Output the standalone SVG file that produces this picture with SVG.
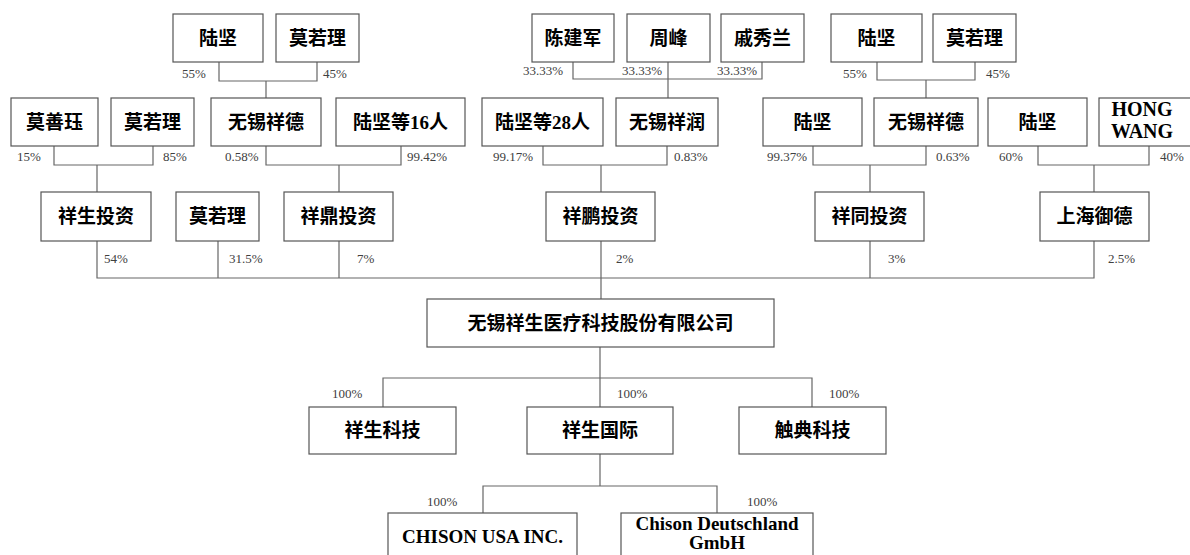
<svg xmlns="http://www.w3.org/2000/svg" width="1190" height="555" viewBox="0 0 1190 555">
<style>
.b{fill:#fff;stroke:#555;stroke-width:1.2}
.t{font-family:"Liberation Serif","Noto Sans CJK SC",serif;font-weight:bold;font-size:19px;fill:#000;text-anchor:middle}
.p{font-family:"Liberation Serif",serif;font-size:13px;fill:#404040}
.c{fill:none;stroke:#666;stroke-width:1.2}
</style>
<rect width="1190" height="555" fill="#fff"/>
<g id="connectors" class="c">
<path d="M219 62V81H317V62M266 81V98"/>
<path d="M573 62V79H762V62M668 62V98"/>
<path d="M877 62V80H975V62M926 80V98"/>
<path d="M54 146V165H153V146M97 165V192"/>
<path d="M266 146V165H401V146M339 165V192"/>
<path d="M543 146V165H667V146M601 165V192"/>
<path d="M813 146V165H926V146M870 165V192"/>
<path d="M1038 146V165H1149V146M1094 165V192"/>
<path d="M97 241V278H1094V241M218 241V278M339 241V278M601 241V299M870 241V278"/>
<path d="M600 347V407M383 407V378H812V407"/>
<path d="M600 454V486M483 513V486H717V513"/>
</g>
<g id="n_lujian1"><rect class="b" x="173" y="14" width="90" height="48"/><text class="t" x="218" y="45">陆坚</text></g>
<g id="n_moruoli1"><rect class="b" x="276" y="14" width="83" height="48"/><text class="t" x="317.5" y="45">莫若理</text></g>
<g id="n_chenjianjun"><rect class="b" x="532" y="14" width="82" height="48"/><text class="t" x="573" y="45">陈建军</text></g>
<g id="n_zhoufeng"><rect class="b" x="627" y="14" width="83" height="48"/><text class="t" x="668.5" y="45">周峰</text></g>
<g id="n_qixiulan"><rect class="b" x="721" y="14" width="83" height="48"/><text class="t" x="762.5" y="45">戚秀兰</text></g>
<g id="n_lujian2"><rect class="b" x="831" y="14" width="91" height="48"/><text class="t" x="876.5" y="45">陆坚</text></g>
<g id="n_moruoli2"><rect class="b" x="933" y="14" width="83" height="48"/><text class="t" x="974.5" y="45">莫若理</text></g>

<g id="n_moshanyu"><rect class="b" x="11" y="98" width="87" height="48"/><text class="t" x="54.5" y="129">莫善珏</text></g>
<g id="n_moruoli3"><rect class="b" x="111" y="98" width="83" height="48"/><text class="t" x="152.5" y="129">莫若理</text></g>
<g id="n_wuxixiangde1"><rect class="b" x="211" y="98" width="110" height="48"/><text class="t" x="266" y="129">无锡祥德</text></g>
<g id="n_lujian16"><rect class="b" x="336" y="98" width="129" height="48"/><text class="t" x="400.5" y="129">陆坚等16人</text></g>
<g id="n_lujian28"><rect class="b" x="482" y="98" width="121" height="48"/><text class="t" x="542.5" y="129">陆坚等28人</text></g>
<g id="n_wuxixiangrun"><rect class="b" x="616" y="98" width="102" height="48"/><text class="t" x="667" y="129">无锡祥润</text></g>
<g id="n_lujian3"><rect class="b" x="763" y="98" width="99" height="48"/><text class="t" x="812.5" y="129">陆坚</text></g>
<g id="n_wuxixiangde2"><rect class="b" x="874" y="98" width="104" height="48"/><text class="t" x="926" y="129">无锡祥德</text></g>
<g id="n_lujian4"><rect class="b" x="988" y="98" width="99" height="48"/><text class="t" x="1037.5" y="129">陆坚</text></g>
<g id="n_hongwang"><rect class="b" x="1099" y="98" width="100" height="48"/><text class="t" x="1142" y="116" style="font-size:20px">HONG</text><text class="t" x="1142" y="138" style="font-size:20px">WANG</text></g>

<g id="n_xiangshengtouzi"><rect class="b" x="41" y="192" width="110" height="49"/><text class="t" x="96" y="223">祥生投资</text></g>
<g id="n_moruoli4"><rect class="b" x="176" y="192" width="83" height="49"/><text class="t" x="217.5" y="223">莫若理</text></g>
<g id="n_xiangdingtouzi"><rect class="b" x="284" y="192" width="109" height="49"/><text class="t" x="338.5" y="223">祥鼎投资</text></g>
<g id="n_xiangpengtouzi"><rect class="b" x="546" y="192" width="109" height="49"/><text class="t" x="600.5" y="223">祥鹏投资</text></g>
<g id="n_xiangtongtouzi"><rect class="b" x="815" y="192" width="109" height="49"/><text class="t" x="869.5" y="223">祥同投资</text></g>
<g id="n_shanghaiyude"><rect class="b" x="1040" y="192" width="109" height="49"/><text class="t" x="1094.5" y="223">上海御德</text></g>

<g id="n_main"><rect class="b" x="427" y="299" width="347" height="48"/><text class="t" x="600.5" y="330">无锡祥生医疗科技股份有限公司</text></g>

<g id="n_xiangshengkeji"><rect class="b" x="309" y="407" width="147" height="47"/><text class="t" x="382.5" y="437">祥生科技</text></g>
<g id="n_xiangshengguoji"><rect class="b" x="527" y="407" width="146" height="47"/><text class="t" x="600" y="437">祥生国际</text></g>
<g id="n_chudiankeji"><rect class="b" x="739" y="407" width="147" height="47"/><text class="t" x="812.5" y="437">触典科技</text></g>

<g id="n_chisonusa"><rect class="b" x="388" y="513" width="189" height="60"/><text class="t" x="482.5" y="543">CHISON USA INC.</text></g>
<g id="n_chisonde"><rect class="b" x="621" y="513" width="192" height="60"/><text class="t" x="717" y="530">Chison Deutschland</text><text class="t" x="717" y="549">GmbH</text></g>

<g id="labels" class="p">
<text x="182" y="78">55%</text>
<text x="323" y="78">45%</text>
<text x="523" y="75">33.33%</text>
<text x="622" y="75">33.33%</text>
<text x="717" y="75">33.33%</text>
<text x="843" y="78">55%</text>
<text x="986" y="78">45%</text>
<text x="17" y="161">15%</text>
<text x="163" y="161">85%</text>
<text x="225" y="161">0.58%</text>
<text x="407" y="161">99.42%</text>
<text x="493" y="161">99.17%</text>
<text x="674" y="161">0.83%</text>
<text x="767" y="161">99.37%</text>
<text x="936" y="161">0.63%</text>
<text x="999" y="161">60%</text>
<text x="1160" y="161">40%</text>
<text x="104" y="263">54%</text>
<text x="229" y="263">31.5%</text>
<text x="357" y="263">7%</text>
<text x="616" y="263">2%</text>
<text x="888" y="263">3%</text>
<text x="1108" y="263">2.5%</text>
<text x="332" y="398">100%</text>
<text x="617" y="398">100%</text>
<text x="829" y="398">100%</text>
<text x="427" y="506">100%</text>
<text x="747" y="506">100%</text>
</g>
</svg>
